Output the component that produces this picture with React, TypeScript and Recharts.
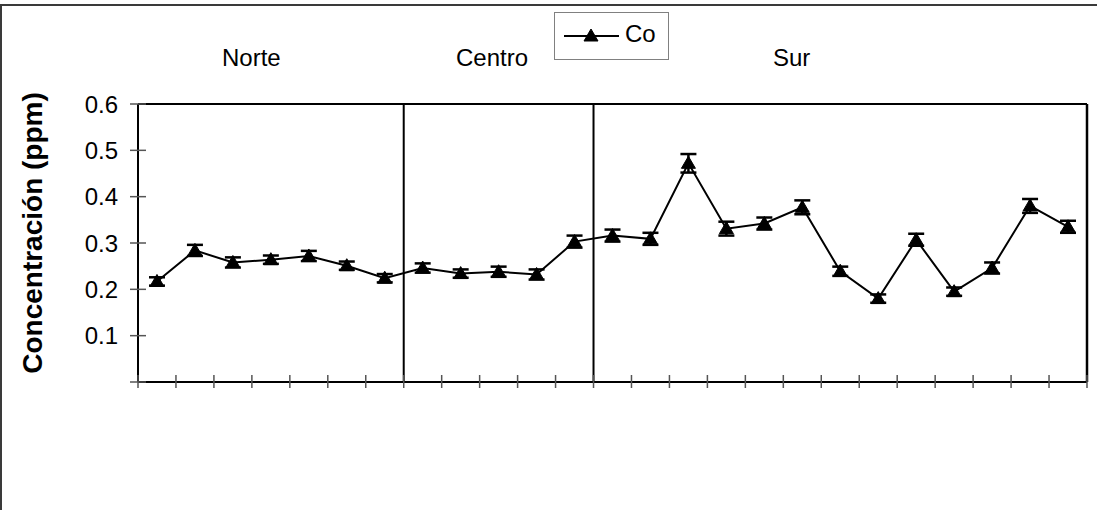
import React from 'react'
import { LineChart, Line, XAxis, YAxis, ErrorBar, ReferenceLine, Legend } from 'recharts'

// sampling sites grouped by region
const regions = ['Norte', 'Centro', 'Sur']
const regionSizes = [7, 5, 13]

// Co concentration (ppm) and its error, one value per site
const coValues = [
  0.217, 0.284, 0.258, 0.264, 0.272, 0.251, 0.224,
  0.246, 0.234, 0.238, 0.232, 0.303,
  0.316, 0.309, 0.472, 0.331, 0.342, 0.377, 0.239, 0.18, 0.307, 0.195, 0.246, 0.38, 0.335,
]
const coErrors = [
  0.009, 0.012, 0.011, 0.009, 0.011, 0.009, 0.009,
  0.01, 0.009, 0.011, 0.011, 0.013,
  0.013, 0.013, 0.02, 0.015, 0.013, 0.015, 0.01, 0.009, 0.013, 0.009, 0.012, 0.015, 0.013,
]

const yTicks = [0, 0.1, 0.2, 0.3, 0.4, 0.5, 0.6]

const FONT = '"Liberation Sans", Arial, sans-serif'

const totalSites = regionSizes.reduce((a, b) => a + b, 0)
const xTicks = Array.from({ length: totalSites + 1 }, (_, i) => i)
const boundaries = regionSizes.slice(0, -1).map((_, i) =>
  regionSizes.slice(0, i + 1).reduce((a, b) => a + b, 0)
)

const data = coValues.map((v, i) => ({ site: i + 0.5, co: v, err: coErrors[i] }))

function Triangle(props: any) {
  const { cx, cy } = props
  if (cx == null || cy == null) return null
  return (
    <path
      d={`M${cx},${cy - 7} L${cx + 7},${cy + 5} L${cx - 7},${cy + 5} Z`}
      fill="#000"
      stroke="#000"
    />
  )
}

function XTick(props: any) {
  const { x, y } = props
  return <line x1={x} x2={x} y1={y - 7} y2={y + 6} stroke="#555" strokeWidth={1.5} />
}

function YTick(props: any) {
  const { x, y, payload } = props
  return (
    <g>
      <line x1={x - 8} x2={x + 8} y1={y} y2={y} stroke="#555" strokeWidth={1.5} />
      {payload.value > 0 ? (
        <text
          x={x - 20}
          y={y}
          textAnchor="end"
          dominantBaseline="central"
          fontSize={24}
          fontFamily={FONT}
          fill="#000"
        >
          {Number(payload.value).toFixed(1)}
        </text>
      ) : null}
    </g>
  )
}

function LegendBox() {
  return (
    <div
      style={{
        width: 113,
        height: 46,
        border: '1px solid #808080',
        background: '#fff',
        position: 'relative',
        fontFamily: FONT,
      }}
    >
      <svg width={113} height={46} style={{ position: 'absolute', left: 0, top: 0 }}>
        <line x1={9} x2={64} y1={23} y2={23} stroke="#000" strokeWidth={2} />
        <Triangle cx={36} cy={23} />
        <text x={70} y={20} dominantBaseline="central" fontSize={24} fontFamily={FONT} fill="#000">
          Co
        </text>
      </svg>
    </div>
  )
}

const regionLabelPos = [
  { left: 222, top: 44 },
  { left: 456, top: 44 },
  { left: 773, top: 44 },
]

export default function App() {
  return (
    <div
      style={{
        position: 'fixed',
        left: 0,
        top: 0,
        width: 1097,
        height: 510,
        overflow: 'hidden',
        background: '#fff',
      }}
    >
      <div
        style={{
          position: 'absolute',
          left: 0,
          top: 4,
          width: 1200,
          height: 600,
          border: '2px solid #3a3a3a',
          boxSizing: 'border-box',
        }}
      />
      <LineChart
        width={1097}
        height={510}
        data={data}
        margin={{ top: 104, right: 10, bottom: 108, left: 78 }}
        style={{ position: 'absolute', left: 0, top: 0 }}
      >
        <XAxis
          dataKey="site"
          type="number"
          domain={[0, totalSites]}
          ticks={xTicks}
          height={20}
          tickSize={0}
          tickMargin={0}
          tick={<XTick />}
          axisLine={{ stroke: '#000', strokeWidth: 2 }}
          tickLine={false}
        />
        <YAxis
          type="number"
          domain={[0, 0.6]}
          ticks={yTicks}
          width={60}
          tickSize={0}
          tickMargin={0}
          tick={<YTick />}
          axisLine={{ stroke: '#000', strokeWidth: 2 }}
          tickLine={false}
        />
        <ReferenceLine y={0.6} stroke="#000" strokeWidth={2} />
        <ReferenceLine x={totalSites} stroke="#000" strokeWidth={2.5} />
        {boundaries.map((b) => (
          <ReferenceLine key={b} x={b} stroke="#000" strokeWidth={2} />
        ))}
        <Legend
          layout="horizontal"
          verticalAlign="middle"
          align="center"
          content={() => <LegendBox />}
          wrapperStyle={{ position: 'absolute', left: 554, top: 12, width: 115 }}
        />
        <Line
          type="linear"
          dataKey="co"
          name="Co"
          stroke="#000"
          strokeWidth={2}
          dot={<Triangle />}
          activeDot={false}
          isAnimationActive={false}
        >
          <ErrorBar dataKey="err" direction="y" width={8} stroke="#000" strokeWidth={2.5} />
        </Line>
      </LineChart>
      {regions.map((r, i) => (
        <div
          key={r}
          style={{
            position: 'absolute',
            left: regionLabelPos[i].left,
            top: regionLabelPos[i].top,
            fontFamily: FONT,
            fontSize: 24,
            lineHeight: '28px',
            color: '#000',
          }}
        >
          {r}
        </div>
      ))}
      <div
        style={{
          position: 'absolute',
          left: 33,
          top: 233,
          transform: 'translate(-50%, -50%) rotate(-90deg)',
          whiteSpace: 'nowrap',
          fontFamily: FONT,
          fontWeight: 'bold',
          fontSize: 28,
          color: '#000',
        }}
      >
        Concentración (ppm)
      </div>
    </div>
  )
}
